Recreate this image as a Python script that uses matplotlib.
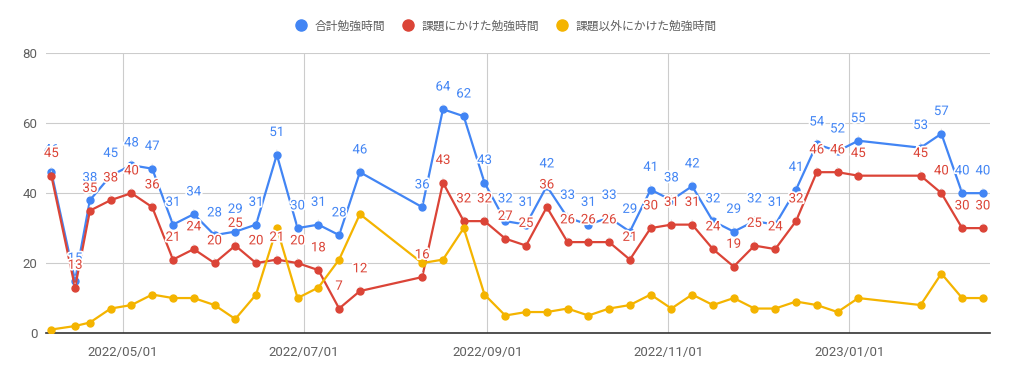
import pandas as pd
import numpy as np
import matplotlib
matplotlib.use('Agg')
import matplotlib.pyplot as plt
import matplotlib.dates as mdates
import matplotlib.patheffects as pe

plt.rcParams['font.family'] = ['Roboto', 'Noto Sans CJK JP', 'DejaVu Sans']

# weekly records
dates = ['2022-04-07', '2022-04-15', '2022-04-20', '2022-04-27', '2022-05-04', '2022-05-11',
         '2022-05-18', '2022-05-25', '2022-06-01', '2022-06-08', '2022-06-15', '2022-06-22',
         '2022-06-29', '2022-07-06', '2022-07-13', '2022-07-20', '2022-08-10', '2022-08-17',
         '2022-08-24', '2022-08-31', '2022-09-07', '2022-09-14', '2022-09-21', '2022-09-28',
         '2022-10-05', '2022-10-12', '2022-10-19', '2022-10-26', '2022-11-02', '2022-11-09',
         '2022-11-16', '2022-11-23', '2022-11-30', '2022-12-07', '2022-12-14', '2022-12-21',
         '2022-12-28', '2023-01-04', '2023-01-25', '2023-02-01', '2023-02-08', '2023-02-15']
total = [46, 15, 38, 45, 48, 47, 31, 34, 28, 29, 31, 51, 30, 31, 28, 46, 36, 64, 62, 43, 32,
         31, 42, 33, 31, 33, 29, 41, 38, 42, 32, 29, 32, 31, 41, 54, 52, 55, 53, 57, 40, 40]
task = [45, 13, 35, 38, 40, 36, 21, 24, 20, 25, 20, 21, 20, 18, 7, 12, 16, 43, 32, 32, 27,
        25, 36, 26, 26, 26, 21, 30, 31, 31, 24, 19, 25, 24, 32, 46, 46, 45, 45, 40, 30, 30]
other = [1, 2, 3, 7, 8, 11, 10, 10, 8, 4, 11, 30, 10, 13, 21, 34, 20, 21, 30, 11, 5,
         6, 6, 7, 5, 7, 8, 11, 7, 11, 8, 10, 7, 7, 9, 8, 6, 10, 8, 17, 10, 10]
series_names = ['合計勉強時間', '課題にかけた勉強時間', '課題以外にかけた勉強時間']
colors = ['#4285F4', '#DB4437', '#F4B400']
xtick_dates = ['2022-05-01', '2022-07-01', '2022-09-01', '2022-11-01', '2023-01-01']
xtick_labels = ['2022/05/01', '2022/07/01', '2022/09/01', '2022/11/01', '2023/01/01']

x = pd.to_datetime(dates)

fig = plt.figure(figsize=(10.09, 3.73), dpi=100)
ax = fig.add_axes([0.0453, 0.1072, 0.9359, 0.7499])

for vals, name, col, labeled in zip([total, task, other], series_names, colors, [True, True, False]):
    ax.plot(x, vals, color=col, lw=1.6, marker='o', ms=5, label=name, zorder=3)
    if labeled:
        for xi, v in zip(x, vals):
            ax.annotate(str(v), (xi, v), xytext=(0, 16), textcoords='offset points',
                        ha='center', va='center', fontsize=9.5, color=col, zorder=5,
                        path_effects=[pe.withStroke(linewidth=2.5, foreground='white')],
                        arrowprops=dict(arrowstyle='-', color='#e0e0e0', lw=0.8,
                                        shrinkA=6, shrinkB=3))

ax.set_ylim(0, 80)
ax.set_yticks([0, 20, 40, 60, 80])
x0 = mdates.date2num(pd.Timestamp('2022-04-05')) + 0.1
x1 = mdates.date2num(pd.Timestamp('2023-02-17')) + 0.4
ax.set_xlim(x0, x1)
ax.set_xticks(pd.to_datetime(xtick_dates))
ax.set_xticklabels(xtick_labels)

ax.grid(True, color='#cccccc', lw=0.8)
ax.set_axisbelow(True)
for s in ['top', 'right', 'left']:
    ax.spines[s].set_visible(False)
ax.spines['bottom'].set_color('#333333')
ax.spines['bottom'].set_linewidth(1.2)
ax.tick_params(length=0, labelsize=9.5, colors='#5f5f5f')
ax.tick_params(axis='x', pad=9)
ax.tick_params(axis='y', pad=6)

leg = fig.legend(loc='center', bbox_to_anchor=(0.502, 0.930), ncol=3, frameon=False,
                 fontsize=8.5, labelcolor='#5f5f5f', handlelength=0.8, handletextpad=0.7,
                 columnspacing=1.6, markerscale=1.6)
for h in leg.legend_handles:
    h.set_linestyle('none')

fig.savefig('out.png', dpi=100)
